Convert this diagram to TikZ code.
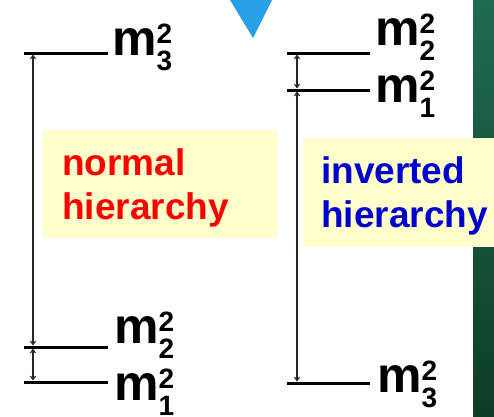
\documentclass[tikz,border=0pt]{standalone}
\usepackage{fontspec}
\setmainfont{Liberation Sans}
\usetikzlibrary{arrows.meta}
\definecolor{notepad}{RGB}{255,255,204}
\definecolor{nhred}{RGB}{255,0,0}
\definecolor{ihblue}{RGB}{0,0,204}
\definecolor{slidegreen}{RGB}{31,107,79}
\definecolor{slidegreendark}{RGB}{14,61,38}
\definecolor{cursorblue}{RGB}{40,160,230}
\newcommand{\msq}[1]{{\fontsize{50}{50}\selectfont m}%
  \raisebox{12pt}{\rlap{\fontsize{28}{28}\selectfont 2}}%
  \raisebox{-15pt}{\fontsize{28}{28}\selectfont #1}}

\begin{document}
\begin{tikzpicture}[x=1pt, y=-1pt,
  massline/.style={line width=3pt},
  splitting/.style={{Straight Barb[length=3.5pt,width=5pt]}-{Straight Barb[length=3.5pt,width=5pt]},
    line width=1.1pt, black!85, shorten <=1.5pt, shorten >=1.5pt},
  masslabel/.style={anchor=base west, inner sep=0pt, font=\bfseries},
  hiertext/.style={anchor=base west, inner sep=0pt, align=left,
    font=\fontsize{37}{44}\selectfont\bfseries}]
\useasboundingbox (0,0) rectangle (494,416);
% slide decorations
\shade[top color=slidegreen, bottom color=slidegreendark] (473,0) rectangle (494,416);
\fill[cursorblue] (230,0) -- (272,0) -- (253,38) -- cycle;
% yellow notes
\fill[notepad] (43,130) rectangle (277,238);
\fill[notepad] (303,138) rectangle (494,247);
\node[hiertext, text=nhred] (normal) at (62,219) {normal\\hierarchy};
\node[hiertext, text=ihblue] (inverted) at (321,227) {inverted\\hierarchy};
% normal hierarchy
\coordinate (n3) at (33,53);
\coordinate (n2) at (33,347);
\coordinate (n1) at (33,382);
\foreach \p in {n3, n2, n1}
  \draw[massline] ([xshift=-9pt]\p) -- ([xshift=75pt]\p);
\draw[splitting] (n3) -- (n2);
\draw[splitting] (n2) -- (n1);
\node[masslabel] (nm3) at (112,55) {\msq{3}};
\node[masslabel] (nm2) at (114,343) {\msq{2}};
\node[masslabel] (nm1) at (114,400) {\msq{1}};
% inverted hierarchy
\coordinate (i2) at (297,53);
\coordinate (i1) at (297,90);
\coordinate (i3) at (297,383);
\foreach \p in {i2, i1, i3}
  \draw[massline] ([xshift=-10pt]\p) -- ([xshift=73pt]\p);
\draw[splitting] (i2) -- (i1);
\draw[splitting] (i1) -- (i3);
\node[masslabel] (im2) at (375,45) {\msq{2}};
\node[masslabel] (im1) at (375,102) {\msq{1}};
\node[masslabel] (im3) at (377,392) {\msq{3}};
\end{tikzpicture}
\end{document}
